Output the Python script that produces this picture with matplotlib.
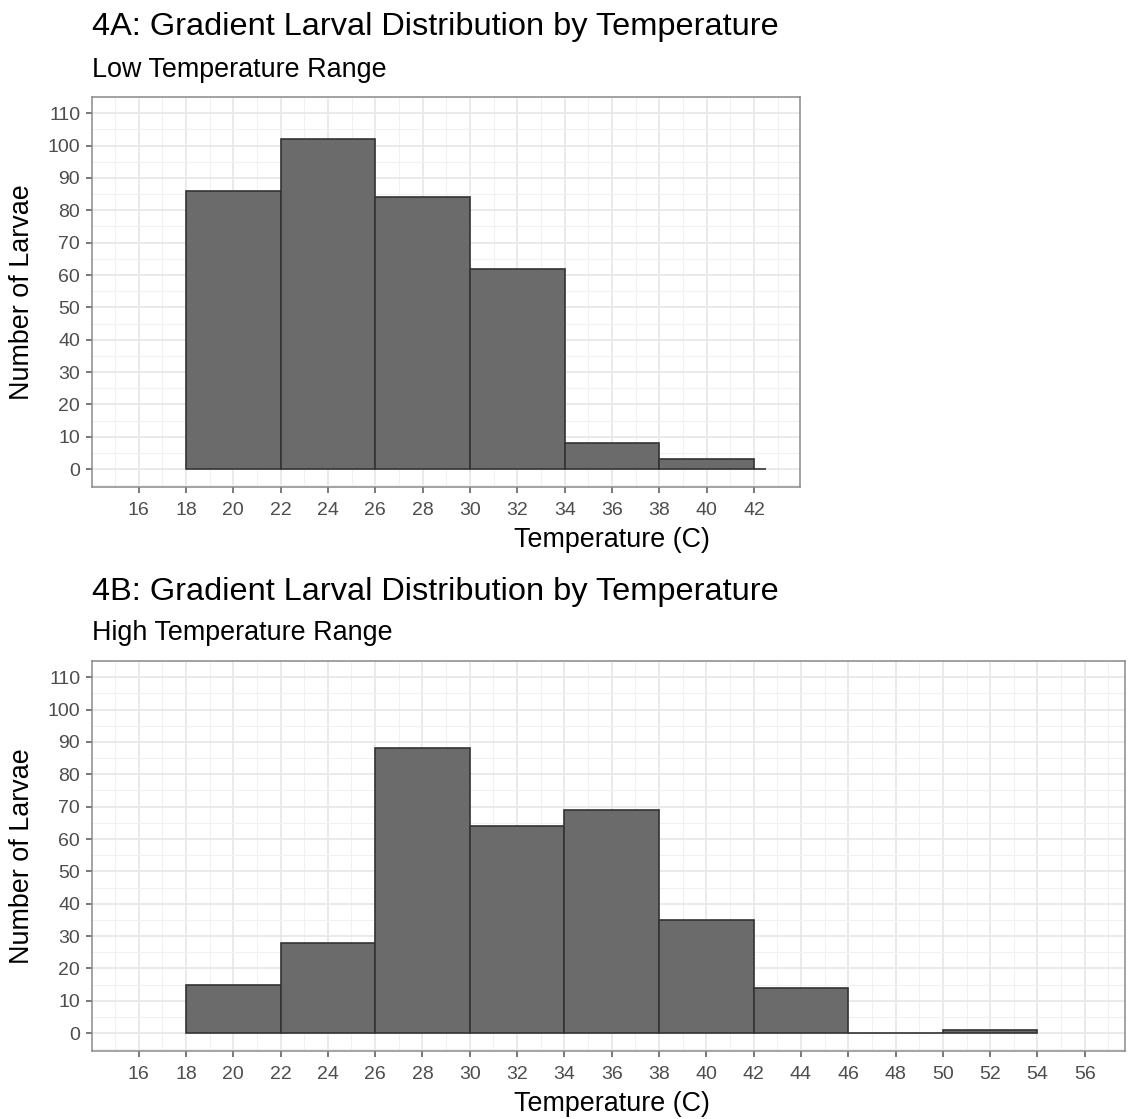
import matplotlib
matplotlib.use("Agg")
import matplotlib.pyplot as plt
from matplotlib.ticker import MultipleLocator
import numpy as np

plt.rcParams['font.family'] = ['Liberation Sans', 'DejaVu Sans']

# Data
low_left = [18, 22, 26, 30, 34, 38, 42]
low_right = [22, 26, 30, 34, 38, 42, 42.5]
low_counts = [86, 102, 84, 62, 8, 3, 0]

high_left = [18, 22, 26, 30, 34, 38, 42, 46, 50]
high_right = [22, 26, 30, 34, 38, 42, 46, 50, 54]
high_counts = [15, 28, 88, 64, 69, 35, 14, 0, 1]

W, H = 1128, 1119
fig = plt.figure(figsize=(W / 100, H / 100), dpi=100)


def fx(px):
    return px / W


def fy(py):
    return 1 - py / H


def panel(rect, left, right, counts, xlim, xticks):
    ax = fig.add_axes(rect)
    l = np.array(left, dtype=float)
    r = np.array(right, dtype=float)
    ax.bar(l, counts, width=r - l, align='edge', color='#6b6b6b',
           edgecolor='#333333', linewidth=1.2, zorder=3)
    ax.set_xlim(*xlim)
    ax.set_ylim(-5.5, 115)
    ax.set_xticks(xticks)
    ax.set_yticks(np.arange(0, 111, 10))
    ax.xaxis.set_minor_locator(MultipleLocator(1))
    ax.yaxis.set_minor_locator(MultipleLocator(5))
    ax.grid(which='major', color='#e8e8e8', linewidth=1.3, zorder=0)
    ax.grid(which='minor', color='#f1f1f1', linewidth=0.8, zorder=0)
    ax.set_axisbelow(True)
    for s in ax.spines.values():
        s.set_color('#8a8a8a')
        s.set_linewidth(1.1)
    ax.tick_params(which='major', length=4.5, width=1.1, color='#555555',
                   labelcolor='#4d4d4d', labelsize=14, pad=4)
    ax.tick_params(axis='x', which='major', pad=6)
    ax.tick_params(which='minor', length=0)
    return ax


ax1 = panel([fx(92), fy(487), fx(800) - fx(92), fy(97) - fy(487)],
            low_left, low_right, low_counts, (14.03, 43.94),
            np.arange(16, 43, 2))
ax2 = panel([fx(92), fy(1051), fx(1125) - fx(92), fy(661) - fy(1051)],
            high_left, high_right, high_counts, (14.03, 57.7),
            np.arange(16, 57, 2))

fig.text(fx(92), fy(27), '4A: Gradient Larval Distribution by Temperature',
         fontsize=23.4, va='center', ha='left', color='black')
fig.text(fx(92), fy(70), 'Low Temperature Range', fontsize=19.4,
         va='center', ha='left', color='black')
fig.text(fx(92), fy(592), '4B: Gradient Larval Distribution by Temperature',
         fontsize=23.4, va='center', ha='left', color='black')
fig.text(fx(92), fy(633), 'High Temperature Range', fontsize=19.4,
         va='center', ha='left', color='black')

for yy in (540, 1104):
    fig.text(fx(612), fy(yy), 'Temperature (C)', fontsize=19.4,
             ha='center', va='center')
for yy in (292, 856):
    fig.text(fx(22), fy(yy), 'Number of Larvae', fontsize=19.4,
             ha='center', va='center', rotation=90)

fig.savefig('out.png', dpi=100)
